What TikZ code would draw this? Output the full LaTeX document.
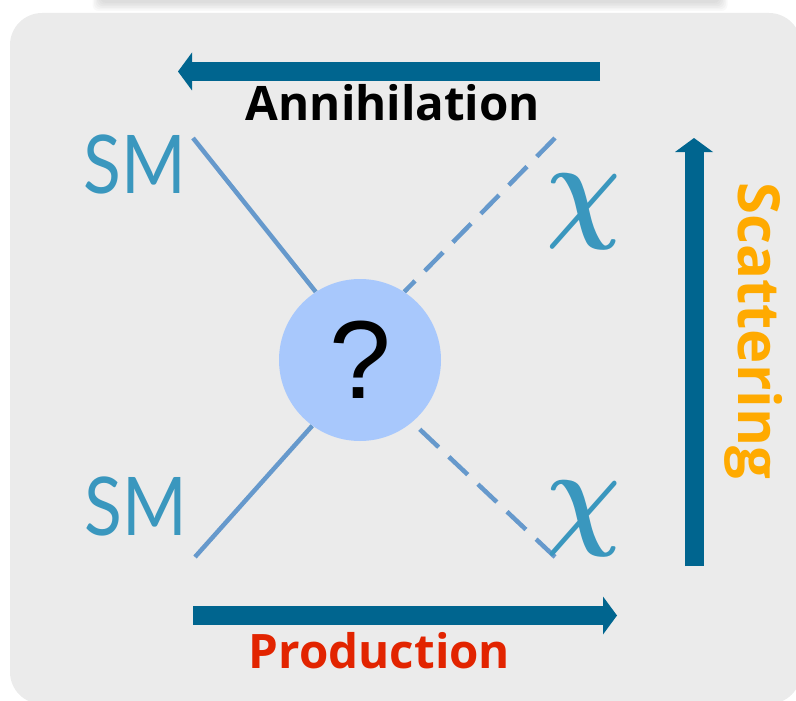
\RequirePackage{fix-cm}
\documentclass[tikz,border=0pt]{standalone}
\usepackage{fontspec}
\setmainfont{Lato}[Ligatures=NoCommon]
\newfontfamily\labfont{Open Sans}[Ligatures=NoCommon]
\newfontfamily\qfont{Liberation Sans}
\usetikzlibrary{arrows.meta}
\definecolor{bggray}{HTML}{EBEBEB}
\definecolor{arrowblue}{HTML}{00658F}
\definecolor{lineblue}{HTML}{6699CC}
\definecolor{blobblue}{HTML}{A8C8FC}
\definecolor{smblue}{HTML}{3A97BE}
\definecolor{scatorange}{HTML}{FFAA00}
\definecolor{prodred}{HTML}{E22400}
\pgfdeclarelayer{back}
\pgfdeclarelayer{bg}
\pgfsetlayers{back,bg,main}
\tikzset{
  bigarrow/.style={draw=arrowblue, line width=19pt,
    -{Triangle[length=14pt,width=38pt,line width=0pt,fill=arrowblue]}},
  solidline/.style={draw=lineblue, line width=4.5pt},
  dashline/.style={draw=lineblue, line width=4.5pt, dash pattern=on 26pt off 14pt},
  smlabel/.style={anchor=base, text=smblue, font=\fontsize{81}{81}\selectfont, inner sep=0pt},
  chilabel/.style={anchor=base, text=smblue, font=\fontsize{118}{118}\selectfont\boldmath, inner sep=0pt},
  boldlabel/.style={anchor=base, inner sep=0pt, font=\labfont\bfseries\fontsize{47.5}{47.5}\selectfont},
  blob/.style={circle, fill=blobblue, minimum size=162pt, inner sep=0pt,
    font=\qfont\fontsize{111}{111}\selectfont}
}
\begin{document}
\begin{tikzpicture}[x=1pt,y=-1pt]
\useasboundingbox (0,0) rectangle (796,701);
\begin{pgfonlayer}{back}
\begin{scope}
  \clip (0,0) rectangle (796,701);
  \foreach \i in {0,...,5}
    \fill[black, opacity=0.022, rounded corners=6pt] (100-1.5*\i,-12) rectangle (720+1.5*\i,3+1.6*\i);
  \fill[bggray, rounded corners=32pt] (10,13) rectangle (801,704);
\end{scope}
\end{pgfonlayer}

% arrows
\coordinate (annS) at (600,71.5);
\coordinate (annE) at (178,71.5);
\coordinate (prodS) at (193,615.5);
\coordinate (prodE) at (617,615.5);
\coordinate (scatS) at (694,566);
\coordinate (scatE) at (694,138);
\draw[bigarrow] (annS) -- (annE);
\draw[bigarrow] (prodS) -- (prodE);
\draw[bigarrow] (scatS) -- (scatE);

% labels
\node[boldlabel] (ann) at (393,121) {Annihilation};
\node[boldlabel, text=prodred] (prod) at (379.5,668) {Production};
\node[boldlabel, text=scatorange, rotate=-90, font=\labfont\bfseries\fontsize{58}{58}\selectfont] (scat) at (738,331) {Scattering};

\node[smlabel] (sm1) at (135,193) {\scalebox{0.86}[1]{SM}};
\node[smlabel] (sm2) at (135.5,535) {\scalebox{0.86}[1]{SM}};
\node[chilabel] (chi1) at (584,226) {\scalebox{0.88}[1]{$\chi$}};
\node[chilabel] (chi2) at (584,533) {\scalebox{0.88}[1]{$\chi$}};

% blob
\node[blob] (q) at (360,360) {?};

% propagators
\coordinate (tl) at (193,138);
\coordinate (tr) at (555,138);
\coordinate (bl) at (195,557);
\coordinate (br) at (555,557);
\begin{pgfonlayer}{bg}
  \draw[solidline] (tl) -- (q.123.7);
  \draw[dashline] (tr) -- (q.57);
  \draw[solidline] (bl) -- (q.234.5);
  \draw[dashline] (br) -- (q.310.3);
\end{pgfonlayer}
\end{tikzpicture}
\end{document}
